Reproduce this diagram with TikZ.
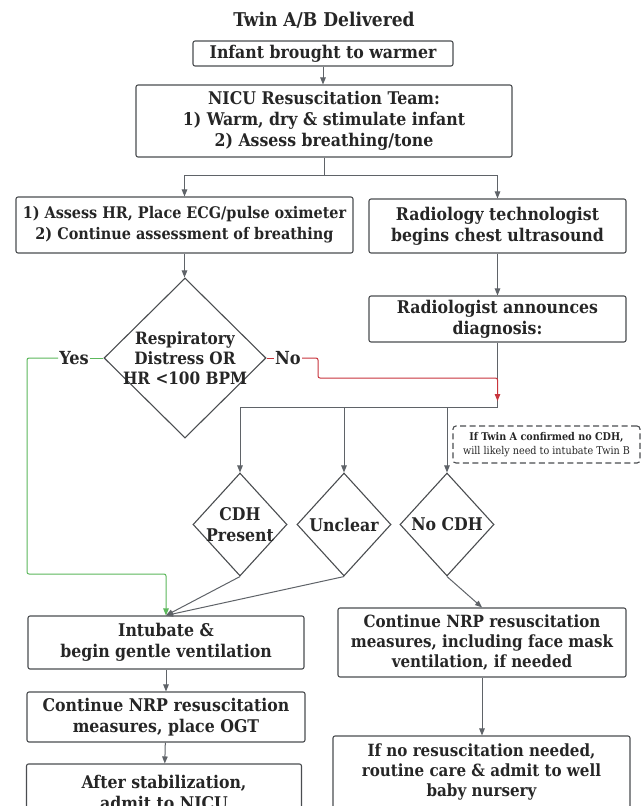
\documentclass[tikz,border=0pt]{standalone}
\usepackage{fontspec}
\setmainfont{DejaVu Serif Condensed}
\usetikzlibrary{shapes.geometric,arrows.meta}
\definecolor{ink}{HTML}{262626}
\definecolor{edge}{HTML}{4A4D50}
\definecolor{lineg}{HTML}{5F6368}
\definecolor{yesg}{HTML}{5CB85C}
\definecolor{nor}{HTML}{C8343C}
\newcommand\mainfs{\bfseries\fontsize{17.5}{21}\selectfont}
\newcommand\midfs{\bfseries\fontsize{16.8}{20}\selectfont}
\newcommand\smallfs{\bfseries\fontsize{16}{21}\selectfont}
\newcommand\titlefs{\bfseries\fontsize{19}{22}\selectfont}
\newcommand\notefs{\fontsize{10.7}{13.5}\selectfont}
\begin{document}
\begin{tikzpicture}[x=1pt,y=-1pt,
  box/.style={draw=edge,line width=1.1pt,rounded corners=2pt,fill=white,text=ink,font=\mainfs,align=center,inner sep=0pt},
  dia/.style={diamond,draw=edge,line width=1.1pt,inner sep=0pt,fill=white},
  lbl/.style={font=\mainfs,text=ink,align=center},
  notebox/.style={draw=edge,line width=1.1pt,dash pattern=on 6pt off 3.5pt,rounded corners=3pt,text=ink,font=\notefs,align=center,inner sep=0pt},
  tip/.style={-{Triangle[length=7pt,width=5.5pt]}},
  conn/.style={draw=lineg,line width=1pt,tip},
  plain/.style={draw=lineg,line width=1pt},
  yesline/.style={draw=yesg,line width=1pt,rounded corners=2pt},
  noline/.style={draw=nor,line width=1pt,rounded corners=2pt}]
\useasboundingbox (0,0) rectangle (644,806);
\fill[white] (0,0) rectangle (644,806);
\clip (0,0) rectangle (644,806);

\node[font=\titlefs,text=ink] (title) at (324,20) {Twin A/B Delivered};
\node[box,minimum width=260pt,minimum height=25pt] (b1) at (323,53.5) {Infant brought to warmer};
\node[box,minimum width=376pt,minimum height=72pt] (b2) at (324,121) {NICU Resuscitation Team:\\1) Warm, dry \& stimulate infant\\2) Assess breathing/tone};
\node[box,font=\smallfs,minimum width=337pt,minimum height=56pt] (b3) at (184.5,225) {1) Assess HR, Place ECG/pulse oximeter\\2) Continue assessment of breathing};
\node[box,minimum width=257pt,minimum height=54pt] (b4) at (497.5,226) {Radiology technologist\\begins chest ultrasound};
\node[box,minimum width=257pt,minimum height=46pt] (b5) at (497.5,319) {Radiologist announces\\diagnosis:};
\node[dia,minimum width=162pt,minimum height=160pt,label={[lbl,font=\bfseries\fontsize{17}{20}\selectfont]center:{Respiratory\\Distress OR\\HR <100 BPM}}] (d1) at (185,358) {};
\node[font=\bfseries\fontsize{18}{20}\selectfont,text=ink,inner sep=1pt] (yes) at (74,358) {Yes};
\node[font=\bfseries\fontsize{18}{20}\selectfont,text=ink,inner sep=1pt] (no) at (288,358) {No};

\node[dia,minimum width=94pt,minimum height=103pt,label={[lbl]center:{CDH\\Present}}] (cdh) at (240,524.5) {};
\node[dia,minimum width=94pt,minimum height=103pt,label={[lbl]center:{Unclear}}] (unc) at (344,524.5) {};
\node[dia,minimum width=94pt,minimum height=103pt,label={[lbl]center:{No CDH}}] (ncdh) at (447,524.5) {};
\node[notebox,minimum width=187pt,minimum height=37pt] (note) at (546.5,444.5) {{\bfseries If Twin A confirmed no CDH,}\\will likely need to intubate Twin B};

\node[box,minimum width=276pt,minimum height=53pt] (b6) at (166,642.5) {Intubate \&\\begin gentle ventilation};
\node[box,minimum width=278pt,minimum height=50pt] (b7) at (166,717) {Continue NRP resuscitation\\measures, place OGT};
\node[box,minimum width=275pt,minimum height=56pt] (b8) at (164,792) {After stabilization,\\admit to NICU};
\node[box,font=\midfs,minimum width=288pt,minimum height=69pt] (b9) at (482,642.5) {Continue NRP resuscitation\\measures, including face mask\\ventilation, if needed};
\node[box,font=\midfs,minimum width=297pt,minimum height=72pt] (b10) at (481.5,772) {If no resuscitation needed,\\routine care \& admit to well\\baby nursery};

% connectors
\draw[conn] (b1.south) -- (b1.south |- b2.north);
\draw[conn] (b2.south) -- ++(0,18) -| (b3.north);
\draw[conn] (b2.south) -- ++(0,18) -| (b4.north);
\draw[conn] (b3.south) -- (b3.south |- d1.north);
\draw[conn] (b4.south) -- (b5.north);
\coordinate (jn) at (497.5,407);
\draw[plain] (b5.south) -- (jn);
\draw[conn] (jn) -| (cdh.north);
\draw[conn] (jn) -| (unc.north);
\draw[conn] (jn) -| (ncdh.north);

\draw[yesline] (d1.west) -- (yes.east);
\draw[yesline,tip] (yes.west) -| (27,574) -| (b6.north);
\coordinate (redend) at (497.5,401);
\draw[noline] (d1.east) -- (no.west);
\draw[noline,tip] (no.east) -- (318,358) -- (318,378) -| (redend);

\draw[conn] (cdh.south) -- (b6.north);
\draw[conn] (unc.south) -- (b6.north);
\draw[conn] (ncdh.south) -- (b9.north);
\draw[conn] (b6) -- (b7);
\draw[conn] (b7) -- (b8);
\draw[conn] (b9) -- (b10.north -| b9.south);
\end{tikzpicture}
\end{document}
